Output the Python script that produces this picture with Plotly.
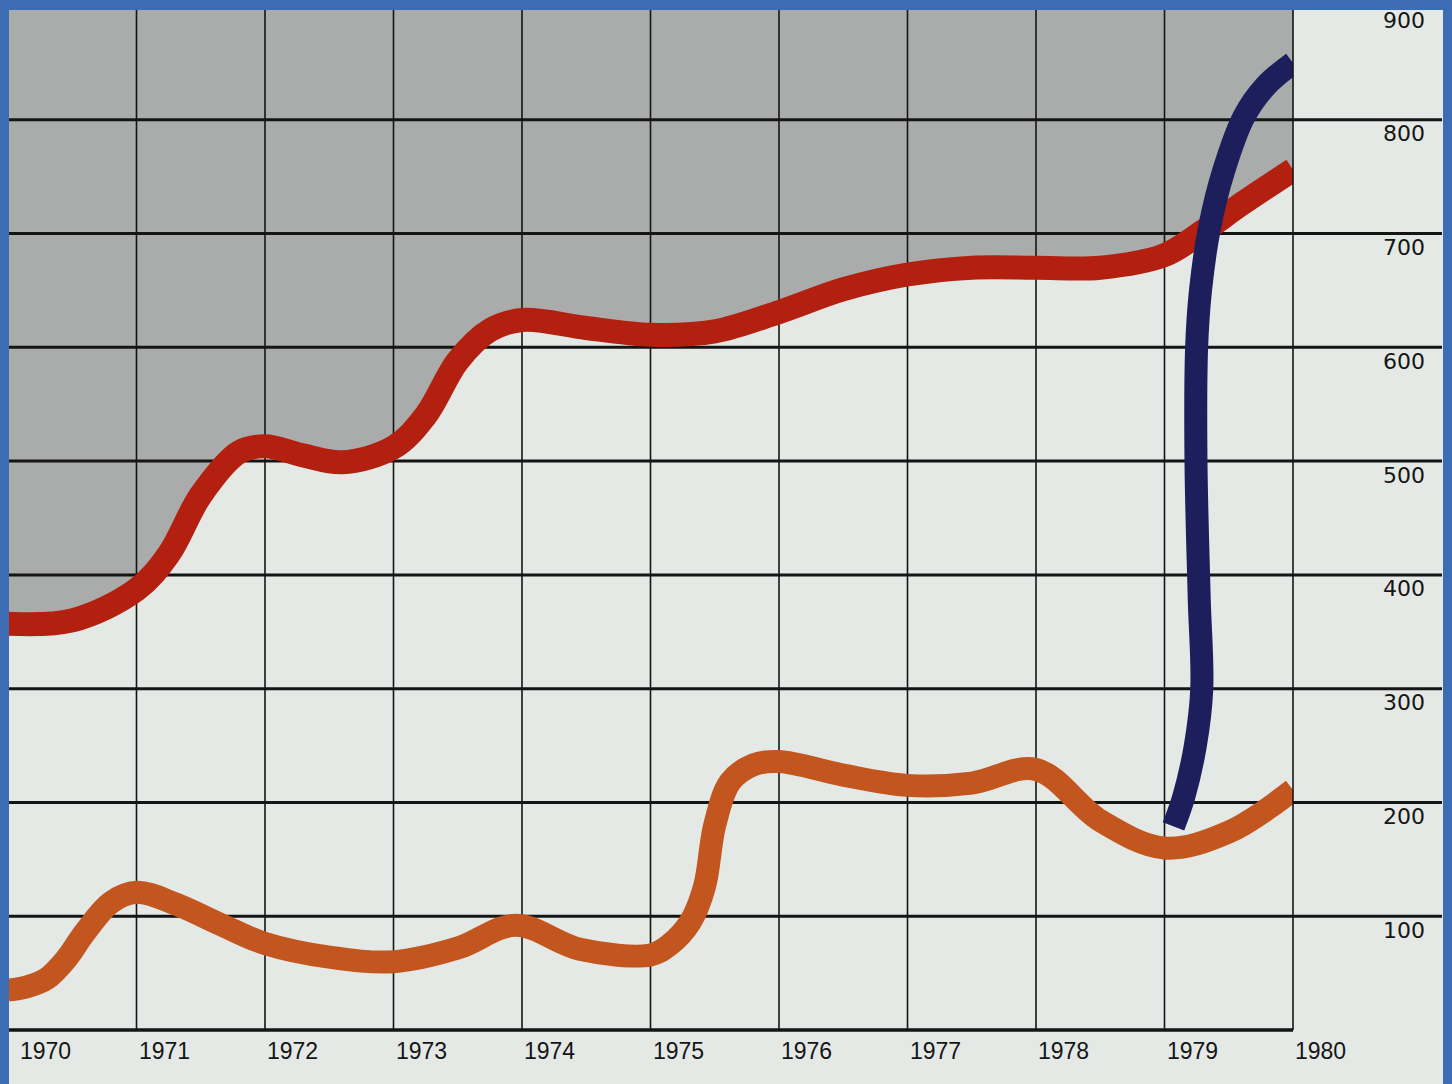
import plotly.graph_objects as go

# ---------------- data ----------------
year_ticks = [1970, 1971, 1972, 1973, 1974, 1975, 1976, 1977, 1978, 1979, 1980]
value_ticks = [100, 200, 300, 400, 500, 600, 700, 800, 900]

red_x = [1970.0, 1970.5, 1971.0, 1971.25, 1971.5, 1971.8, 1972.0,
         1972.3, 1972.6, 1973.0, 1973.25, 1973.5, 1973.75, 1974.0, 1974.5,
         1975.0, 1975.5, 1976.0, 1976.5, 1977.0, 1977.5, 1978.0, 1978.5, 1979.0,
         1979.3, 1979.6, 1980.0]
red_y = [357, 360, 387, 418, 470, 508, 513,
         505, 499, 512, 540, 588, 615, 624, 617,
         611, 614, 631, 651, 664, 670, 670, 670, 681,
         702, 726, 756]

orange_x = [1970.0, 1970.15, 1970.3, 1970.45, 1970.6, 1970.8, 1971.0, 1971.3, 1971.65,
            1972.0, 1972.5, 1973.0, 1973.5, 1973.95, 1974.45, 1975.0, 1975.15,
            1975.31, 1975.42, 1975.5, 1975.62, 1975.8, 1976.0, 1976.5, 1977.0,
            1977.5, 1978.0, 1978.5, 1979.0, 1979.5, 1980.0]
orange_y = [35, 38, 45, 62, 86, 112, 121, 111, 93,
            76, 64, 60, 72, 92, 71, 66, 75,
            95, 126, 180, 218, 233, 236, 224, 215,
            217, 229, 184, 160, 174, 211]

blue_x = [1979.07, 1979.15, 1979.24, 1979.29, 1979.27, 1979.245, 1979.25, 1979.28,
          1979.35, 1979.46, 1979.62, 1979.79, 1980.0]
blue_y = [179, 205, 250, 300, 380, 500, 600, 650,
          705, 755, 803, 830, 850]

# ---------------- style ----------------
LIGHT = "#e4e9e6"
GREY = "#a9acaa"
BORDER = "#3c6db4"
RED = "#b4200f"
ORANGE = "#c3561f"
NAVY = "#1c1f5b"
INK = "#151515"

W, H = 1452, 1084
ML, MR, MT, MB = 8, 159, 6, 54
PW = W - ML - MR
PH = H - MT - MB

fig = go.Figure()

# grey area above the red curve
fig.add_trace(go.Scatter(x=red_x, y=red_y, mode="lines",
                         line=dict(color=RED, width=1, shape="spline"),
                         hoverinfo="skip", showlegend=False))
top = value_ticks[-1] + 200
fig.add_trace(go.Scatter(x=[red_x[0], red_x[-1]], y=[top, top], mode="lines",
                         line=dict(width=0), fill="tonexty", fillcolor=GREY,
                         hoverinfo="skip", showlegend=False))

# grid lines (drawn above the grey fill, below the curves)
hx, hy = [], []
for v in value_ticks[:-1]:
    hx += [year_ticks[0], year_ticks[-1], None]
    hy += [v, v, None]
fig.add_trace(go.Scatter(x=hx, y=hy, mode="lines", line=dict(color=INK, width=3),
                         hoverinfo="skip", showlegend=False))
vx, vy = [], []
for yr in year_ticks[1:-1]:
    vx += [yr, yr, None]
    vy += [0, value_ticks[-1], None]
fig.add_trace(go.Scatter(x=vx, y=vy, mode="lines", line=dict(color=INK, width=1.6),
                         hoverinfo="skip", showlegend=False))

# curves
fig.add_trace(go.Scatter(x=red_x, y=red_y, mode="lines",
                         line=dict(color=RED, width=24, shape="spline", smoothing=1),
                         hoverinfo="skip", showlegend=False))
fig.add_trace(go.Scatter(x=orange_x, y=orange_y, mode="lines",
                         line=dict(color=ORANGE, width=23, shape="spline", smoothing=1),
                         hoverinfo="skip", showlegend=False))
fig.add_trace(go.Scatter(x=blue_x, y=blue_y, mode="lines",
                         line=dict(color=NAVY, width=23, shape="spline", smoothing=1),
                         hoverinfo="skip", showlegend=False))

shapes = []
# horizontal grid lines continue through the right-hand label column
right_end = (1442 - ML) / PW
for v in value_ticks[:-1]:
    shapes.append(dict(type="line", xref="paper", yref="y", x0=1, x1=right_end,
                       y0=v, y1=v, line=dict(color=INK, width=3), layer="above"))
# bottom baseline and right edge of the grid
shapes.append(dict(type="line", xref="x", yref="paper", x0=year_ticks[0], x1=year_ticks[-1],
                   y0=0, y1=0, line=dict(color=INK, width=3.5), layer="above"))
shapes.append(dict(type="line", xref="paper", yref="y", x0=1, x1=1,
                   y0=0, y1=value_ticks[-1], line=dict(color=INK, width=1.6), layer="above"))
# blue frame
fx = lambda px: (px - ML) / PW
fy = lambda py: (H - MB - py) / PH
shapes.append(dict(type="rect", xref="paper", yref="paper", x0=fx(-20), x1=fx(9),
                   y0=fy(H + 20), y1=fy(-20), fillcolor=BORDER, line=dict(width=0), layer="above"))
shapes.append(dict(type="rect", xref="paper", yref="paper", x0=fx(-20), x1=fx(W + 20),
                   y0=fy(10), y1=fy(-20), fillcolor=BORDER, line=dict(width=0), layer="above"))
shapes.append(dict(type="rect", xref="paper", yref="paper", x0=fx(1443), x1=fx(W + 20),
                   y0=fy(H + 20), y1=fy(-20), fillcolor=BORDER, line=dict(width=0), layer="above"))

annotations = []
for yr in year_ticks:
    annotations.append(dict(x=yr, y=0, xref="x", yref="paper", text=str(yr),
                            showarrow=False, xanchor="left", yanchor="middle",
                            xshift=10 if yr == year_ticks[0] else 0, yshift=-21,
                            font=dict(family="Liberation Sans, Arial", size=23, color=INK)))
for v in value_ticks:
    annotations.append(dict(x=(1427 - ML) / PW, y=v, xref="paper", yref="y", text=str(v),
                            showarrow=False, xanchor="right", yanchor="middle",
                            yshift=-14,
                            font=dict(family="DejaVu Sans, Liberation Sans", size=22, color=INK)))

fig.update_layout(
    width=W, height=H,
    margin=dict(l=ML, r=MR, t=MT, b=MB, pad=0),
    paper_bgcolor=LIGHT, plot_bgcolor=LIGHT,
    showlegend=False, hovermode=False,
    xaxis=dict(range=[year_ticks[0], year_ticks[-1]], showgrid=False, zeroline=False,
               showticklabels=False, showline=False, ticks=""),
    yaxis=dict(range=[0, value_ticks[-1]], showgrid=False, zeroline=False,
               showticklabels=False, showline=False, ticks=""),
    shapes=shapes, annotations=annotations,
)

fig.write_html("out.html",
               config={"displayModeBar": False, "staticPlot": True},
               post_script="document.body.style.margin='0';document.body.style.padding='0';"
                           "document.body.style.overflow='hidden';")
